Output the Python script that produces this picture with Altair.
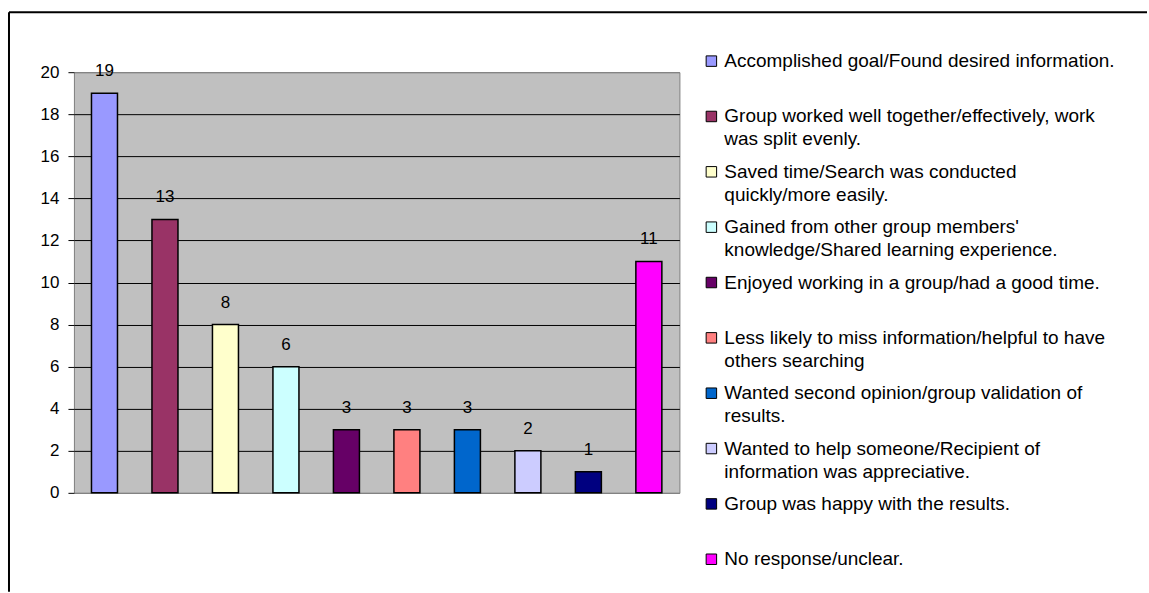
import altair as alt
import pandas as pd

categories = [
    "Accomplished goal/Found desired information.",
    "Group worked well together/effectively, work\nwas split evenly.",
    "Saved time/Search was conducted\nquickly/more easily.",
    "Gained from other group members'\nknowledge/Shared learning experience.",
    "Enjoyed working in a group/had a good time.",
    "Less likely to miss information/helpful to have\nothers searching",
    "Wanted second opinion/group validation of\nresults.",
    "Wanted to help someone/Recipient of\ninformation was appreciative.",
    "Group was happy with the results.",
    "No response/unclear.",
]
counts = [19, 13, 8, 6, 3, 3, 3, 2, 1, 11]
colors = ["#9999FF", "#993366", "#FFFFCC", "#CCFFFF", "#660066",
          "#FF8080", "#0066CC", "#CCCCFF", "#000080", "#FF00FF"]
y_ticks = [0, 2, 4, 6, 8, 10, 12, 14, 16, 18, 20]

df = pd.DataFrame({"cat": categories, "count": counts,
                   "idx": list(range(len(categories)))})

color = alt.Color("cat:N", scale=alt.Scale(domain=categories, range=colors), legend=None)
fillc = alt.Fill("cat:N", scale=alt.Scale(domain=categories, range=colors), legend=None)
x = alt.X("cat:N", sort=categories, axis=None,
          scale=alt.Scale(paddingInner=0.57, paddingOuter=0.29))
y = alt.Y("count:Q", scale=alt.Scale(domain=[0, 20], nice=False),
          axis=alt.Axis(values=y_ticks, title=None, domain=False, tickSize=6,
                        tickColor="black", tickWidth=1, labelFontSize=17,
                        labelColor="black", labelPadding=9, grid=True,
                        gridColor=alt.condition("datum.value % 20 == 0",
                                                alt.value("#808080"), alt.value("#000000")),
                        gridWidth=1))

frame = pd.DataFrame({"k": [0]})
left_line = alt.Chart(frame).mark_rule(stroke="black", strokeWidth=2).encode(
    x=alt.value(-65), y=alt.value(-60), y2=alt.value(520))
top_line = alt.Chart(frame).mark_rule(stroke="black", strokeWidth=2).encode(
    x=alt.value(-65), x2=alt.value(1074), y=alt.value(-60))

bars = alt.Chart(df).mark_bar(stroke="black", strokeWidth=1.5).encode(
    x=x, y=y, color=color)
labels = alt.Chart(df).mark_text(dy=-22, fontSize=17, color="black",
                                 baseline="middle").encode(x=x, y=y, text="count:Q")

left = alt.layer(left_line, top_line, bars, labels).properties(
    width=606, height=421,
    view=alt.ViewBackground(fill="#C0C0C0", stroke="#808080", strokeWidth=1))

ly = alt.Y("idx:Q", scale=alt.Scale(domain=[0.2, 7.8], reverse=True, nice=False, zero=False),
           axis=None)
sym = alt.Chart(df).mark_square(size=110, stroke="black", strokeWidth=1, opacity=1).encode(
    x=alt.value(12), y=ly, fill=fillc)
txt = alt.Chart(df).mark_text(align="left", baseline="middle", fontSize=19,
                              lineBreak="\n", lineHeight=23, color="black").encode(
    x=alt.value(25), y=ly, text="cat:N")
legend = alt.layer(sym, txt).properties(width=420, height=421)

chart = alt.hconcat(left, legend, spacing=20, bounds="flush").properties(
    padding={"left": 7, "top": 10, "right": 0, "bottom": 0},
    background="white",
).configure(font="Liberation Sans").configure_view(strokeWidth=0)

chart.save("out.html", embed_options={"renderer": "svg", "actions": False})
